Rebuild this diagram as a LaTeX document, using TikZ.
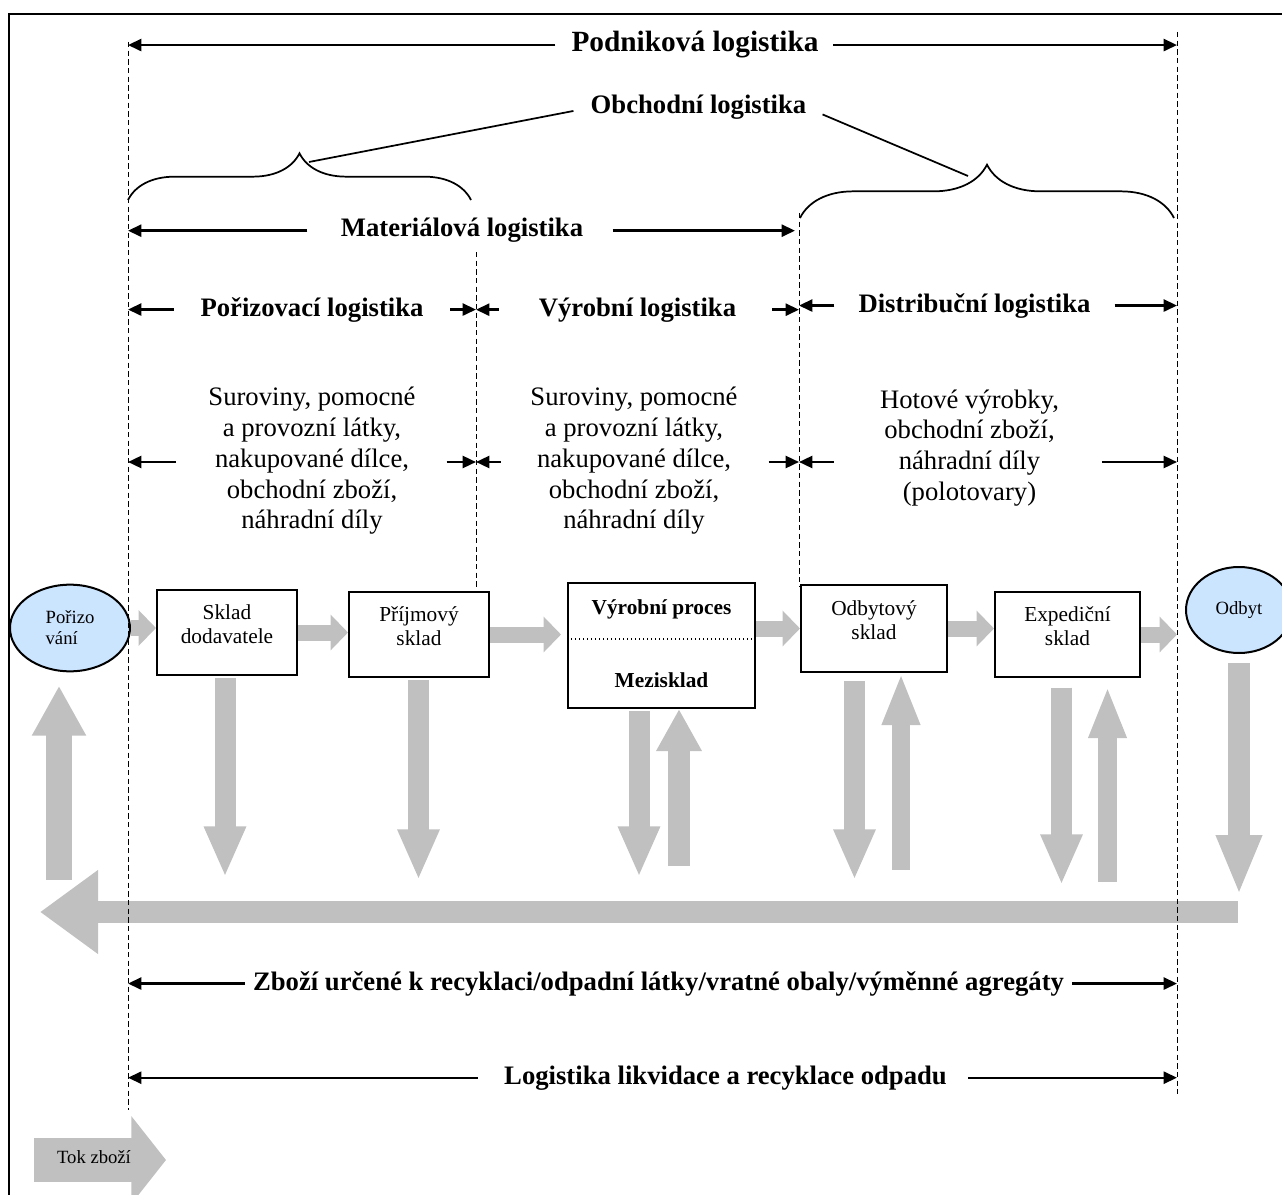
\documentclass[tikz,border=0pt]{standalone}
\usepackage{fontspec}
\setmainfont{Liberation Serif}
\usetikzlibrary{arrows.meta,decorations.pathreplacing,shapes.geometric}

\definecolor{flowgray}{RGB}{192,192,192}
\definecolor{nodeblue}{RGB}{204,229,255}

% deeper last line, lifts the text a little inside the boxes
\newcommand{\boxstrut}{\rule[-12.5pt]{0pt}{12.5pt}}

\tikzset{
  bigtitle/.style={font=\bfseries\fontsize{22}{26}\selectfont, inner sep=0pt, anchor=base},
  title/.style={font=\bfseries\fontsize{20}{24}\selectfont, inner sep=0pt, anchor=base},
  goods/.style={font=\fontsize{20}{23.1}\selectfont, align=center, inner sep=0pt},
  dimarrow/.style={line width=1.8pt, -{Triangle[length=10pt,width=9pt]}},
  boundary/.style={line width=0.75pt, dash pattern=on 4pt off 2.5pt},
  store/.style={draw, line width=1.5pt, rectangle, minimum width=105pt, minimum height=64pt, align=center, inner sep=2pt, font=\fontsize{16}{18}\selectfont, execute at end node=\boxstrut},
  endpoint/.style={draw, line width=1.5pt, ellipse, fill=nodeblue, inner sep=0pt, font=\fontsize{14}{15.75}\selectfont},
  hflow/.style={draw=flowgray, line width=12pt, -{Triangle[length=13pt,width=26pt]}},
  vflow/.style={draw=flowgray, line width=15.75pt, -{Triangle[length=38pt,width=29pt]}},
  vflowup/.style={draw=flowgray, line width=14pt, -{Triangle[length=39pt,width=26pt]}},
}

\begin{document}
\begin{tikzpicture}[x=0.75pt,y=0.75pt,yscale=-1,xscale=1]
\useasboundingbox (0,0) rectangle (1282,1195);
\clip (0,0) rectangle (1282,1195);

%Frame
\draw[line width=1.6pt] (9,1200) -- (9,14) -- (1290,14);

%Shape: Ellipse
\node[endpoint, minimum width=90pt, minimum height=65pt, align=left] (porizo) at (70,628) {Pořizo\\vání};
\node[endpoint, minimum width=79.5pt, minimum height=64.5pt] (odbyt) at (1239,610) {Odbyt};

%Shape: Rectangle
\node[store] (sklad) at (227,632.5) {Sklad\\dodavatele};
\node[store] (prijem) at (419,634.5) {Příjmový\\sklad};
\node[draw, line width=1.5pt, minimum width=140.25pt, minimum height=93.75pt] (vyroba) at (661.5,645.5) {};
\node[font=\bfseries\fontsize{16}{18}\selectfont, inner sep=0pt, anchor=base] (vyrproc) at (661.5,614) {Výrobní proces};
\node[font=\bfseries\fontsize{16}{18}\selectfont, inner sep=0pt, anchor=base] (mezi) at (661.5,687) {Mezisklad};
\draw[dotted, line width=1pt] (vyroba.west |- 0,639) -- (vyroba.east |- 0,639);
\node[store, minimum width=109.5pt, minimum height=65.25pt] (odbytsk) at (874,628.5) {Odbytový\\sklad};
\node[store, minimum width=108.75pt] (exped) at (1067.5,634.5) {Expediční\\sklad};

%Block Arrows: flow of goods
\draw[hflow] (porizo.east) -- (porizo.east -| sklad.west);
\draw[hflow] (sklad.east) -- (sklad.east -| prijem.west);
\draw[hflow, shorten >=4.5pt] (prijem.east) -- (prijem.east -| vyroba.west);
\draw[hflow] (odbytsk.west -| vyroba.east) -- (odbytsk.west);
\draw[hflow] (odbytsk.east) -- (odbytsk.east -| exped.west);
\coordinate (dD1) at (1177,32);
\coordinate (dD2) at (1177,1094);
\draw[hflow] (exped.east) -- (exped.east -| dD1);

%Block Arrows: vertical
\coordinate (up0) at (59,880);
\draw[vflow, line width=19.5pt, -{Triangle[length=37.5pt,width=38pt]}, shorten >=10pt] (up0) -- (up0 |- porizo.south);
\coordinate (dn1) at (225,877);
\draw[vflow, shorten <=1.5pt] (dn1 |- sklad.south) -- (dn1);
\coordinate (dn2) at (418.5,880);
\draw[vflow, shorten <=1.5pt] (dn2 |- prijem.south) -- (dn2);
\coordinate (dn3) at (639,877);
\draw[vflow, shorten <=1.5pt] (dn3 |- vyroba.south) -- (dn3);
\coordinate (up3) at (679,866);
\draw[vflow, line width=16.5pt, -{Triangle[length=31.5pt,width=32pt]}] (up3) -- (up3 |- vyroba.south);
\coordinate (dn4) at (854.5,880);
\draw[vflow, shorten <=6pt] (dn4 |- odbytsk.south) -- (dn4);
\coordinate (up4) at (901,870);
\draw[vflowup] (up4) -- (up4 |- odbytsk.south);
\coordinate (dn5) at (1061.5,885);
\draw[vflow, shorten <=7pt] (dn5 |- exped.south) -- (dn5);
\coordinate (up5) at (1107.5,882);
\draw[vflowup, shorten >=6pt] (up5) -- (up5 |- exped.south);
\coordinate (dn6) at (1239,895);
\draw[vflow, line width=16.5pt, -{Triangle[length=45pt,width=31.5pt]}, shorten <=7pt] (dn6 |- odbyt.south) -- (dn6);

%Block Arrow: return flow
\coordinate (retR) at (1238,912);
\coordinate (retL) at (40,912);
\draw[draw=flowgray, line width=17pt, -{Triangle[length=43.5pt,width=60pt]}] (retR) -- (retL);

%Block Arrow: legend
\coordinate (tokA) at (34,1160);
\coordinate (tokB) at (166,1160);
\draw[draw=flowgray, line width=33pt, -{Triangle[length=26pt,width=64.5pt]}] (tokA) -- (tokB);
\node[font=\fontsize{14}{16}\selectfont, inner sep=0pt, anchor=base] (tok) at (94,1163) {Tok zboží};

%Dashed Lines
\coordinate (dA1) at (128,42);
\coordinate (dA2) at (128,1110);
\coordinate (dB1) at (476,252);
\coordinate (dB2) at (476,588);
\coordinate (dC1) at (799,213);
\coordinate (dC2) at (799,586);
\draw[boundary] (dA1) -- (dA2);
\draw[boundary] (dB1) -- (dB2);
\draw[boundary] (dC1) -- (dC2);
\draw[boundary] (dD1) -- (dD2);

%Titles
\node[bigtitle] (podnik) at (695,52) {Podniková logistika};
\node[title] (obchod) at (698.5,114) {Obchodní logistika};
\node[title] (mater) at (462,237) {Materiálová logistika};
\node[title] (porlog) at (312,316) {Pořizovací logistika};
\node[title] (vyrlog) at (637.5,316) {Výrobní logistika};
\node[title] (distlog) at (974.5,312) {Distribuční logistika};
\node[title] (recyk) at (658.5,990) {Zboží určené k recyklaci/odpadní látky/vratné obaly/výměnné agregáty};
\node[title] (likvid) at (725.5,1084) {Logistika likvidace a recyklace odpadu};

%Straight Lines: ranges
\draw[dimarrow, shorten <=12pt] (podnik.west) -- (podnik.west -| dA1);
\draw[dimarrow, shorten <=11pt] (podnik.east) -- (podnik.east -| dD1);
\draw[dimarrow, shorten <=25pt] (mater.west) -- (mater.west -| dA1);
\draw[dimarrow, shorten <=22pt, shorten >=3pt] (mater.east) -- (mater.east -| dC1);
\draw[dimarrow, shorten <=20pt] (porlog.west) -- (porlog.west -| dA1);
\draw[dimarrow, shorten <=20pt] (porlog.east) -- (porlog.east -| dB1);
\draw[dimarrow, shorten <=30pt] (vyrlog.west) -- (vyrlog.west -| dB1);
\draw[dimarrow, shorten <=27pt] (vyrlog.east) -- (vyrlog.east -| dC1);
\draw[dimarrow, shorten <=18pt] (distlog.west) -- (distlog.west -| dC1);
\draw[dimarrow, shorten <=18pt] (distlog.east) -- (distlog.east -| dD1);
\draw[dimarrow, shorten <=6pt] (recyk.west) -- (recyk.west -| dA1);
\draw[dimarrow, shorten <=6pt] (recyk.east) -- (recyk.east -| dD1);
\draw[dimarrow, shorten <=19.5pt] (likvid.west) -- (likvid.west -| dA1);
\draw[dimarrow, shorten <=16pt] (likvid.east) -- (likvid.east -| dD1);

%Goods in each section
\node[goods] (mat1) at (312,461) {Suroviny, pomocné\\a provozní látky,\\nakupované dílce,\\obchodní zboží,\\náhradní díly};
\node[goods] (mat2) at (634,461) {Suroviny, pomocné\\a provozní látky,\\nakupované dílce,\\obchodní zboží,\\náhradní díly};
\node[goods] (mat3) at (969.5,448) {Hotové výrobky,\\obchodní zboží,\\náhradní díly\\(polotovary)};

\coordinate (row2) at (0,462);
\draw[dimarrow, shorten <=24pt] (row2 -| mat1.west) -- (row2 -| dA1);
\draw[dimarrow, shorten <=23pt] (row2 -| mat1.east) -- (row2 -| dB1);
\draw[dimarrow, shorten <=22pt] (row2 -| mat2.west) -- (row2 -| dB1);
\draw[dimarrow, shorten <=23pt] (row2 -| mat2.east) -- (row2 -| dC1);
\draw[dimarrow, shorten <=34.5pt] (row2 -| mat3.west) -- (row2 -| dC1);
\draw[dimarrow, shorten <=32pt] (row2 -| mat3.east) -- (row2 -| dD1);

%Shape: Brace
\coordinate (braceL) at (309,162);
\coordinate (braceR) at (968,176);
\draw[line width=1.3pt, decorate, decoration={brace, amplitude=35pt}] (128,200) -- (471,200);
\draw[line width=1.3pt, decorate, decoration={brace, amplitude=40pt}] (800,218) -- (1174,218);
\draw[line width=1.3pt, shorten <=13pt] (obchod.west) -- (braceL);
\draw[line width=1.3pt, shorten <=13pt] (obchod.east) -- (braceR);

\end{tikzpicture}
\end{document}
